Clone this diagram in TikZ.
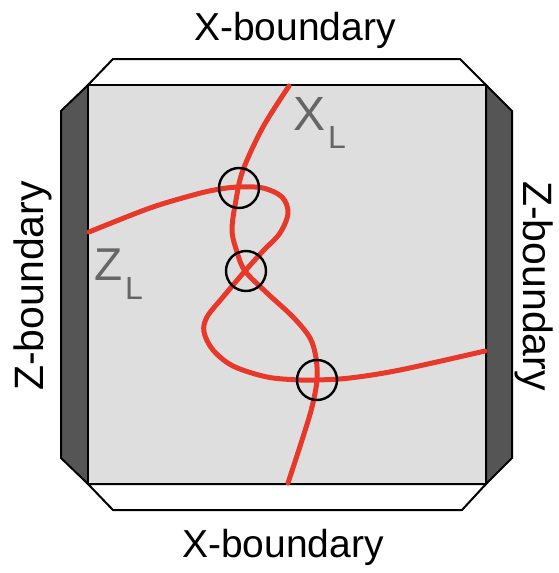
\documentclass[tikz,border=0pt]{standalone}
\usepackage{fontspec}
\setmainfont{Liberation Sans}
\definecolor{panel}{HTML}{555555}
\definecolor{face}{HTML}{DEDEDE}
\definecolor{chain}{HTML}{E8382A}
\definecolor{lab}{HTML}{666666}
\begin{document}
\begin{tikzpicture}[x=1pt,y=-1pt,
  outline/.style={draw=black,line width=2pt,line join=miter},
  chainline/.style={draw=chain,line width=5pt,line cap=round,line join=round},
  ring/.style={circle,draw=black,line width=2.4pt,minimum size=40pt,inner sep=0pt},
  bound/.style={font=\fontsize{39}{42}\selectfont,inner sep=0pt,anchor=base},
  biglab/.style={text=lab,inner sep=0pt,anchor=base west}]
\useasboundingbox (0,0) rectangle (558,573);
% side panels
\filldraw[outline,fill=white] (88,85) -- (113,59) -- (460,59) -- (486,85) -- cycle;
\filldraw[outline,fill=white] (88,484) -- (113,510) -- (462,510) -- (486,484) -- cycle;
\filldraw[outline,fill=panel] (88,85) -- (61,111) -- (61,458) -- (88,484) -- cycle;
\filldraw[outline,fill=panel] (486,85) -- (512,111) -- (512,458) -- (486,484) -- cycle;
% face
\filldraw[fill=face,draw=black,line width=2.6pt] (88,85) rectangle (486,484);
% chains
\draw[chainline] plot[smooth,tension=0.55] coordinates {(289,86) (263,127) (243,170) (236,200) (232,230) (237,252) (245,271) (267,293) (293,317) (310,338) (316,358) (317,380) (312,407) (303,437) (288,483)};
\draw[chainline] plot[smooth,tension=0.55] coordinates {(89,232) (150,208) (197,194) (220,189) (239,187) (263,188) (282,197) (288,213) (280,233) (263,251) (245,271) (223,297) (207,317) (204,332) (213,350) (233,366) (267,377) (300,380) (317,380) (350,378) (400,370) (485,351)};
% rings
\node[ring] (c1) at (239,188) {};
\node[ring] (c2) at (246,271) {};
\node[ring] (c3) at (317,380) {};
% labels
\node[bound] (tx) at (295,40) {X-boundary};
\node[bound] (bx) at (283,557) {X-boundary};
\node[bound,rotate=90,font=\fontsize{41}{44}\selectfont] (lz) at (43,286) {Z-boundary};
\node[bound,rotate=-90,font=\fontsize{41}{44}\selectfont] (rz) at (523,286) {Z-boundary};
\node[biglab,font=\fontsize{48}{50}\selectfont] (xl) at (293,130) {X};
\node[biglab,font=\fontsize{32}{34}\selectfont] (xls) at (328,148) {L};
\node[biglab,font=\fontsize{46}{48}\selectfont] (zl) at (94,280) {Z};
\node[biglab,font=\fontsize{32}{34}\selectfont] (zls) at (125,299) {L};
\end{tikzpicture}
\end{document}
